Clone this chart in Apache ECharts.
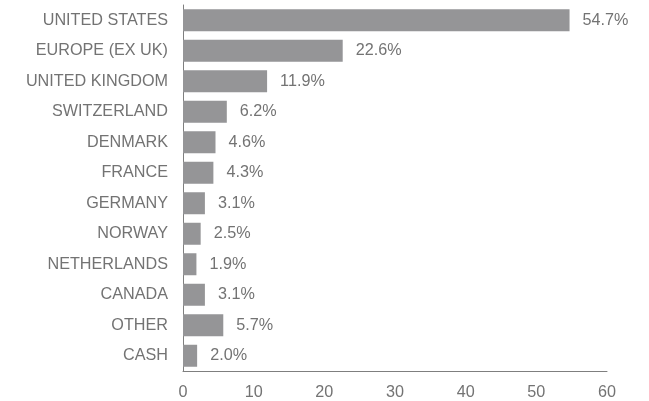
<!DOCTYPE html>
<html><head><meta charset="utf-8">
<script src="https://cdn.jsdelivr.net/npm/echarts@6/dist/echarts.min.js"></script>
<style>html,body{margin:0;padding:0;background:#fff}#c{width:649px;height:401px}</style>
</head><body><div id="c"></div>
<script>
var categories = ["UNITED STATES","EUROPE (EX UK)","UNITED KINGDOM","SWITZERLAND","DENMARK","FRANCE","GERMANY","NORWAY","NETHERLANDS","CANADA","OTHER","CASH"];
var values = [54.7,22.6,11.9,6.2,4.6,4.3,3.1,2.5,1.9,3.1,5.7,2.0];
var xTicks = [0,10,20,30,40,50,60];
var chart = echarts.init(document.getElementById('c'), null, {renderer:'canvas'});
var font = 'Liberation Sans, Arial, sans-serif';
var fs = 16.2;
var tc = '#737373';
chart.setOption({
  animation:false,
  grid:{left:183,right:42,top:5,bottom:29,containLabel:false},
  xAxis:{type:'value',min:xTicks[0],max:xTicks[xTicks.length-1],interval:10,
    axisLine:{show:true,lineStyle:{color:'#7f7f7f',width:1}},
    axisTick:{show:false},splitLine:{show:false},
    axisLabel:{color:tc,fontSize:fs,fontFamily:font,margin:14}},
  yAxis:{type:'category',data:categories,inverse:true,
    axisLine:{show:true,lineStyle:{color:'#7f7f7f',width:1}},
    axisTick:{show:false},
    axisLabel:{color:tc,fontSize:fs,fontFamily:font,margin:15}},
  series:[{type:'bar',data:values,barWidth:22,
    itemStyle:{color:'#959597'},
    label:{show:true,position:'right',distance:13,color:tc,fontSize:fs,fontFamily:font,
      formatter:function(p){return p.value.toFixed(1)+'%';}}}]
});
</script></body></html>
